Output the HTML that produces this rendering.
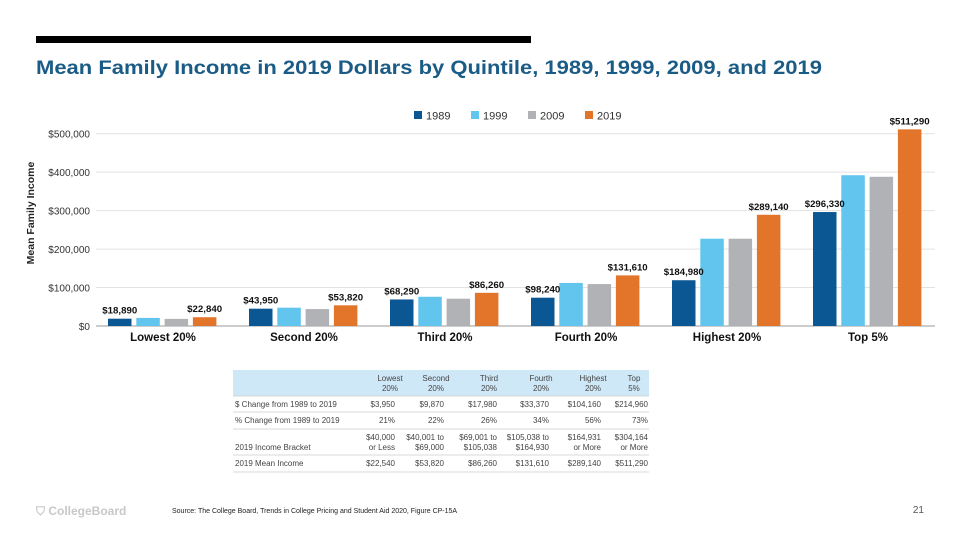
<!DOCTYPE html>
<html><head><meta charset="utf-8"><style>
html,body{margin:0;padding:0;background:#fff;}
svg{display:block;font-family:"Liberation Sans",Arial,sans-serif;}
</style></head><body>
<svg width="960" height="540" viewBox="0 0 960 540" xmlns="http://www.w3.org/2000/svg" id="root">
<rect x="36" y="36" width="495" height="7" fill="#000"/>
<text x="36" y="74" font-size="19" font-weight="bold" fill="#1b5c87" textLength="786" lengthAdjust="spacingAndGlyphs">Mean Family Income in 2019 Dollars by Quintile, 1989, 1999, 2009, and 2019</text>
<g id="chart"></g>
<g id="table"></g>
<text x="36" y="515" font-size="12" font-weight="bold" fill="#c8c8c8">⛉ CollegeBoard</text>
<text x="172" y="513" font-size="7" fill="#222">Source: The College Board, Trends in College Pricing and Student Aid 2020, Figure CP-15A</text>
<text x="924" y="513" font-size="10" fill="#555" text-anchor="end">21</text>
</svg>
<script>
const categories = ["Lowest 20%","Second 20%","Third 20%","Fourth 20%","Highest 20%","Top 5%"];
const seriesNames = ["1989","1999","2009","2019"];
const v1989 = [19000,45000,69000,73600,119000,296330];
const v1999 = [21000,47600,76000,112000,227000,392000];
const v2009 = [18500,44000,71000,109000,227000,388000];
const v2019 = [22840,53820,86260,131610,289140,511290];
const labels1989 = ["$18,890","$43,950","$68,290","$98,240","$184,980","$296,330"];
const labels2019 = ["$22,840","$53,820","$86,260","$131,610","$289,140","$511,290"];
const yTicks = [0,100000,200000,300000,400000,500000];
const yTickLabels = ["$0","$100,000","$200,000","$300,000","$400,000","$500,000"];

const tableHeaders = ["Lowest\n20%","Second\n20%","Third\n20%","Fourth\n20%","Highest\n20%","Top\n5%"];
const rowLabels = ["$ Change from 1989 to 2019","% Change from 1989 to 2019","2019 Income Bracket","2019 Mean Income"];
const rowDollarChange = ["$3,950","$9,870","$17,980","$33,370","$104,160","$214,960"];
const rowPctChange = ["21%","22%","26%","34%","56%","73%"];
const rowBracket = ["$40,000\nor Less","$40,001 to\n$69,000","$69,001 to\n$105,038","$105,038 to\n$164,930","$164,931\nor More","$304,164\nor More"];
const rowMean = ["$22,540","$53,820","$86,260","$131,610","$289,140","$511,290"];

const NS="http://www.w3.org/2000/svg";
function mk(tag,attrs,parent,txt){const e=document.createElementNS(NS,tag);for(const k in attrs)e.setAttribute(k,attrs[k]);if(txt!==undefined)e.textContent=txt;parent.appendChild(e);return e;}
const colors=["#0b5794","#62c5ee","#b1b2b5","#e2752a"];
const y0=326, pxPerUnit=192.3/500000;
const yScale=v=>y0-v*pxPerUnit;
const xGroup=i=>108+i*141;
const barW=23.5, barStep=28.3;
const chart=document.getElementById('chart');

yTicks.forEach((t,i)=>{
  const l=mk('line',{x1:96,x2:935,y1:yScale(t),y2:yScale(t),stroke:i===0?'#bbb':'#e2e2e2','stroke-width':i===0?1.5:1},chart);
  
  
  const tx=mk('text',{x:90,y:yScale(t)+4,'font-size':10,fill:'#333','text-anchor':'end'},chart,yTickLabels[i]);
  
  
});
const yt=mk('text',{x:0,y:0,'font-size':10.5,'font-weight':'bold',fill:'#222','text-anchor':'middle',transform:'translate(34,213) rotate(-90)'},chart,'Mean Family Income');



const series=[v1989,v1999,v2009,v2019];
categories.forEach((c,i)=>{
  series.forEach((s,j)=>{
    const x=xGroup(i)+j*barStep;
    const r=mk('rect',{x:x,y:yScale(s[i]),width:barW,height:y0-yScale(s[i]),fill:colors[j]},chart);
    
    
  });
  const l1=mk('text',{x:xGroup(i)+barW/2,y:yScale(v1989[i])-5,'font-size':9.5,'font-weight':'bold',fill:'#111','text-anchor':'middle',textLength:labels1989[i].length*5,lengthAdjust:'spacingAndGlyphs'},chart,labels1989[i]);
  
  
  const l2=mk('text',{x:xGroup(i)+3*barStep+barW/2,y:yScale(v2019[i])-5,'font-size':9.5,'font-weight':'bold',fill:'#111','text-anchor':'middle',textLength:labels2019[i].length*5,lengthAdjust:'spacingAndGlyphs'},chart,labels2019[i]);
  
  
  const cl=mk('text',{x:xGroup(i)+55,y:341,'font-size':11.5,'font-weight':'bold',fill:'#111','text-anchor':'middle'},chart,c);
  
  
});
seriesNames.forEach((n,j)=>{
  const x=414+j*57;
  const g=mk('g',{},chart);
  
  
  mk('rect',{x:x,y:111,width:8,height:8,fill:colors[j]},g);
  mk('text',{x:x+12,y:119.5,'font-size':11,fill:'#333'},g,n);
});

// table
const tb=document.getElementById('table');
mk('rect',{x:233,y:370,width:416,height:26,fill:'#cfe8f8'},tb);
const colR=[395,444,497,549,601,648];
tableHeaders.forEach((h,i)=>{
  h.split('\n').forEach((ln,k)=>{
    const t=mk('text',{x:colR[i]-(i===5?6:0)-(i===0?5:8),y:381+k*10,'font-size':8,fill:'#444','text-anchor':'middle'},tb,ln);
    
    
  });
});
const rows=[rowDollarChange,rowPctChange,rowBracket,rowMean];
const rowY=[[407],[423],[440,450],[466]];
const lineY=[396,412,429,455,472];
lineY.forEach(y=>mk('line',{x1:233,x2:649,y1:y,y2:y,stroke:'#ccc','stroke-width':0.8},tb));
rows.forEach((r,ri)=>{
  const lbl=mk('text',{x:235,y:ri===2?450:rowY[ri][0],'font-size':8,fill:'#444'},tb,rowLabels[ri]);
  
  
  r.forEach((v,i)=>{
    v.split('\n').forEach((ln,k)=>{
      const t=mk('text',{x:colR[i],y:rowY[ri][k],'font-size':8,fill:'#444','text-anchor':'end'},tb,ln);
      
      
    });
  });
});
</script>
</body></html>
